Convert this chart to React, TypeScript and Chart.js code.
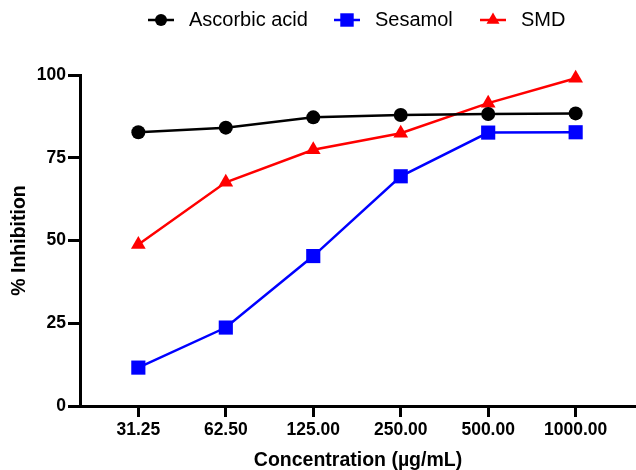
import React, { useEffect, useRef } from 'react';
import { Chart, registerables } from 'chart.js';
import { drawPoint } from 'chart.js/helpers';

Chart.register(...registerables);

const categories = ['31.25', '62.50', '125.00', '250.00', '500.00', '1000.00'];
const ascorbicAcid = [82.7, 84.1, 87.2, 87.9, 88.2, 88.4];
const sesamol = [11.6, 23.7, 45.3, 69.4, 82.6, 82.7];
const smd = [48.8, 67.6, 77.4, 82.4, 91.5, 99.0];
const seriesNames = ['Ascorbic acid', 'Sesamol', 'SMD'];
const yTicks = [0, 25, 50, 75, 100];

const FONT = '"Liberation Sans", Arial, Helvetica, sans-serif';

const lineLegend = {
  id: 'lineLegend',
  afterDraw(chart: any, _args: any, opts: any) {
    const ctx = chart.ctx;
    ctx.save();
    chart.data.datasets.forEach((ds: any, i: number) => {
      const x0 = opts.starts[i];
      const y = opts.y;
      ctx.strokeStyle = ds.borderColor;
      ctx.lineWidth = 2.5;
      ctx.beginPath();
      ctx.moveTo(x0, y);
      ctx.lineTo(x0 + 26, y);
      ctx.stroke();
      ctx.fillStyle = ds.pointBackgroundColor;
      ctx.strokeStyle = ds.pointBackgroundColor;
      drawPoint(ctx, { pointStyle: ds.pointStyle, radius: opts.radii[i], rotation: 0, borderWidth: 0 } as any, x0 + 13, y);
      ctx.fillStyle = '#000';
      ctx.font = `20px ${FONT}`;
      ctx.textBaseline = 'middle';
      ctx.textAlign = 'left';
      ctx.fillText(ds.label, x0 + 41, y);
    });
    ctx.restore();
  },
};

function toPoints(values: number[]) {
  return values.map((v, i) => ({ x: i, y: v }));
}

export default function App() {
  const ref = useRef<HTMLCanvasElement | null>(null);

  useEffect(() => {
    if (!ref.current) return;
    Chart.defaults.font.family = FONT;
    Chart.defaults.color = '#000';
    const chart = new Chart(ref.current, {
      type: 'line',
      data: {
        datasets: [
          {
            label: seriesNames[0],
            data: toPoints(ascorbicAcid),
            borderColor: '#000000',
            backgroundColor: '#000000',
            pointBackgroundColor: '#000000',
            pointBorderColor: '#000000',
            pointStyle: 'circle',
            pointRadius: 7,
            borderWidth: 2.5,
            pointBorderWidth: 0,
            clip: false as any,
          },
          {
            label: seriesNames[1],
            data: toPoints(sesamol),
            borderColor: '#0000ff',
            backgroundColor: '#0000ff',
            pointBackgroundColor: '#0000ff',
            pointBorderColor: '#0000ff',
            pointStyle: 'rect',
            pointRadius: 10,
            borderWidth: 2.5,
            pointBorderWidth: 0,
            clip: false as any,
          },
          {
            label: seriesNames[2],
            data: toPoints(smd),
            borderColor: '#ff0000',
            backgroundColor: '#ff0000',
            pointBackgroundColor: '#ff0000',
            pointBorderColor: '#ff0000',
            pointStyle: 'triangle',
            pointRadius: 8.5,
            borderWidth: 2.5,
            pointBorderWidth: 0,
            clip: false as any,
          },
        ],
      },
      options: {
        animation: false,
        responsive: false,
        events: [],
        layout: { autoPadding: false, padding: { left: 0, right: 0, top: 75, bottom: 0 } },
        plugins: {
          legend: { display: false },
          tooltip: { enabled: false },
          lineLegend: { starts: [148, 334, 480], y: 20, radii: [6, 9.5, 7.5] },
        } as any,
        scales: {
          x: {
            type: 'linear',
            min: -0.667,
            max: 5.69,
            afterBuildTicks: (scale: any) => {
              scale.ticks = categories.map((_, i) => ({ value: i }));
            },
            afterFit: (scale: any) => {
              scale.height = 64;
              scale.paddingLeft = 0;
              scale.paddingRight = 0;
            },
            ticks: {
              callback: (v: any) => categories[Math.round(Number(v))] ?? '',
              font: { size: 17.5, weight: 'bold' },
              color: '#000',
              padding: 3,
              maxRotation: 0,
              autoSkip: false,
            },
            grid: { drawOnChartArea: false, drawTicks: true, tickLength: 11, lineWidth: 3, color: '#000' },
            border: { display: true, width: 3, color: '#000' },
            title: {
              display: true,
              text: 'Concentration (µg/mL)',
              font: { size: 19.5, weight: 'bold', lineHeight: 1 },
              color: '#000',
              padding: { top: 0, bottom: 0 },
            },
          },
          y: {
            type: 'linear',
            min: 0,
            max: 100,
            afterBuildTicks: (scale: any) => {
              scale.ticks = yTicks.map((v) => ({ value: v }));
            },
            afterFit: (scale: any) => {
              scale.width = 80;
            },
            ticks: {
              font: { size: 17.5, weight: 'bold' },
              color: '#000',
              padding: 2,
            },
            grid: { drawOnChartArea: false, drawTicks: true, tickLength: 12, lineWidth: 3, color: '#000' },
            border: { display: true, width: 3, color: '#000' },
            title: {
              display: true,
              text: '% Inhibition',
              font: { size: 19.5, weight: 'bold', lineHeight: 1 },
              color: '#000',
              padding: { top: 10, bottom: 0 },
            },
          },
        },
      },
      plugins: [lineLegend],
    });
    return () => chart.destroy();
  }, []);

  return (
    <div style={{ position: 'fixed', left: 0, top: 0, width: 636, height: 470, background: '#fff' }}>
      <canvas ref={ref} width={636} height={470} style={{ display: 'block' }} />
    </div>
  );
}
